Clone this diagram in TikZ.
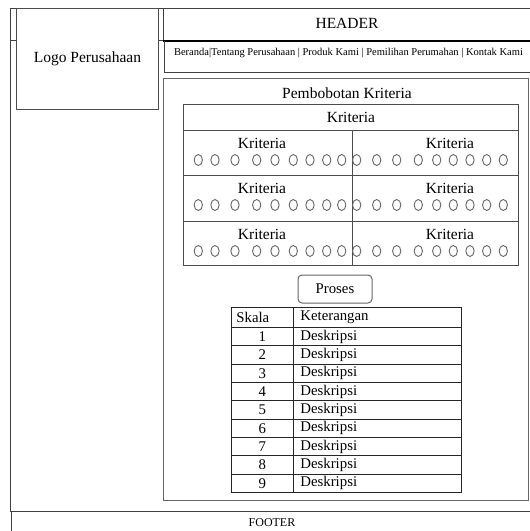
\documentclass[tikz,border=0pt]{standalone}
\usepackage{fontspec}
\setmainfont{Liberation Serif}
\usetikzlibrary{positioning,shapes.geometric}

\begin{document}
\begin{tikzpicture}[x=1pt, y=-1pt,
  frame/.style={draw=black!75, line width=0.9pt},
  box/.style={draw=black!70, line width=0.9pt, fill=white, anchor=north west,
              inner sep=0pt, font=\fontsize{15.5}{18}\selectfont},
  lbl/.style={inner sep=0pt, font=\fontsize{15.5}{18}\selectfont},
  radio/.style={draw=black!60, line width=0.9pt, ellipse, minimum width=8.3pt,
                minimum height=11pt, inner sep=0pt},
  tcell/.style={draw=black!85, line width=0.8pt, anchor=north west, inner ysep=0pt,
                minimum height=18.33pt, font=\fontsize{14.8}{16}\selectfont},
  btn/.style={draw=black!60, line width=1pt, rounded corners=4pt, minimum width=74pt,
              minimum height=28pt, font=\fontsize{14.8}{16}\selectfont}
]
\useasboundingbox (0,0) rectangle (530,531);

\draw[frame] (530,8) -| (10,511) -- (530,511);
\draw[frame] (530,511) -| (11,531);
\draw[frame] (10,40) -- (163,40);
\draw[frame] (163,8) -- (163,40);
\draw[draw=black, line width=2.2pt] (163,41) -- (530,41);
\draw[frame] (164,41) |- (530,72);

\node[box, minimum width=142pt, minimum height=101pt] (logo) at (16,8) {Logo Perusahaan};
\node[lbl] (header) at (347,23) {HEADER};
\node[lbl, font=\fontsize{10.5}{12}\selectfont] (nav) at (348.5,53)
  {Beranda|Tentang Perusahaan | Produk Kami | Pemilihan Perumahan | Kontak Kami};

\node[box, draw=black!60, minimum width=365pt, minimum height=422pt] (content) at (163,78) {};
\node[lbl] (judul) at (347,93) {Pembobotan Kriteria};

\node[box, minimum width=335pt, minimum height=26pt] (krit) at (183,104) {Kriteria};
\foreach \r/\y/\h in {1/130/45,2/175/46,3/221/44} {
  \node[box, minimum width=169pt, minimum height=\h pt] (kl\r) at (183,\y) {};
  \node[box, minimum width=166pt, minimum height=\h pt] (kr\r) at (352,\y) {};
  \node[lbl] (tl\r) at (262,\y+13.5) {Kriteria};
  \node[lbl] (tr\r) at (450,\y+13.5) {Kriteria};
  \foreach \cx [count=\k] in {198.3,215,235,256.7,275,293.3,310,326.7,341.7,
                              356.7,376.7,396.7,418.3,436.7,453.3,470,486.7,503.3}
    \node[radio] (o\r-\k) at (\cx,\y+30) {};
}

\node[btn] (proses) at (335,289) {Proses};

\node[tcell, minimum width=62pt, minimum height=20pt, text width=52pt, inner xsep=5pt,
      align=left] (skala) at (231,307) {Skala};
\node[tcell, minimum width=168pt, minimum height=20pt, text width=154pt, inner xsep=7pt,
      align=left] (ket) at (293,307) {Keterangan};
\foreach \i in {1,...,9} {
  \node[tcell, minimum width=62pt, text width=52pt, inner xsep=5pt, align=center]
    (s\i) at (231,327+18.33*\i-18.33) {\i};
  \node[tcell, minimum width=168pt, text width=154pt, inner xsep=7pt, align=left]
    (d\i) at (293,327+18.33*\i-18.33) {Deskripsi};
}

\node[lbl, font=\fontsize{12}{14}\selectfont] (footer) at (272,523) {FOOTER};
\end{tikzpicture}
\end{document}
